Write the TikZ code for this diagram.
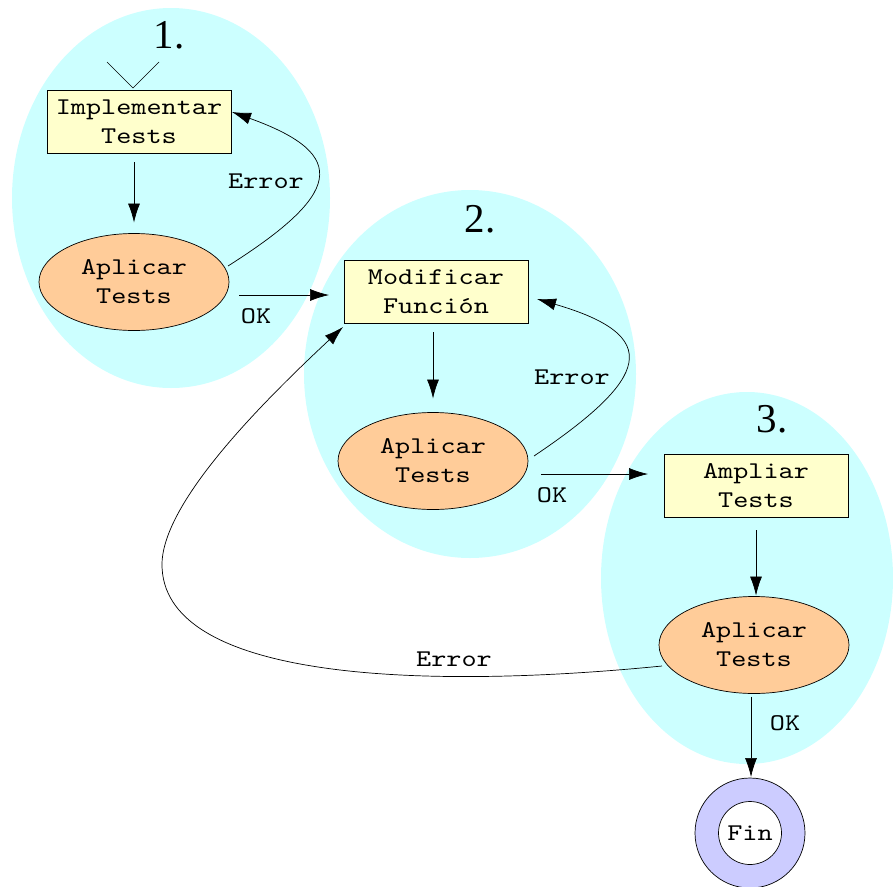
\documentclass[tikz,border=0pt]{standalone}
\usepackage{fontspec}
\setmainfont{Liberation Serif}
\newfontfamily\monof[FakeStretch=1.2]{lmmono10-regular.otf}
\usetikzlibrary{shapes.geometric,arrows.meta,calc}
\definecolor{clus}{HTML}{CCFFFF}
\definecolor{boxc}{HTML}{FFFFCC}
\definecolor{ellc}{HTML}{FFCC99}
\definecolor{finc}{HTML}{CCCCFF}
\begin{document}
\begin{tikzpicture}[x=1pt,y=-1pt,
  every node/.style={inner sep=0pt, outer sep=0pt},
  lbl/.style={font=\monof\fontsize{24}{29}\selectfont, align=center},
  boxn/.style={lbl, draw, line width=0.7pt, fill=boxc, minimum width=184pt, minimum height=63pt},
  elln/.style={lbl, ellipse, draw, line width=0.7pt, fill=ellc, minimum width=190pt, minimum height=97pt},
  arr/.style={-{Latex[length=19pt,width=12pt]}, line width=0.7pt},
  plain/.style={line width=0.7pt},
  num/.style={font=\fontsize{41}{41}\selectfont, anchor=base}]
\useasboundingbox (0,0) rectangle (893,886);
% clusters
\fill[clus] (171,198) ellipse [x radius=159pt, y radius=190pt];
\fill[clus] (470,374) ellipse [x radius=166pt, y radius=184pt];
\fill[clus] (747,578) ellipse [x radius=146pt, y radius=186pt];
\node[num] (n1) at (169,48) {1.};
\node[num] (n2) at (480,232) {2.};
\node[num] (n3) at (772,432) {3.};
% nodes
\node[boxn] (b1) at (139,121.5) {Implementar\\Tests};
\node[elln] (e1) at (134,282) {Aplicar\\Tests};
\node[boxn] (b2) at (436,291.5) {Modificar\\Función};
\node[elln] (e2) at (433,461) {Aplicar\\Tests};
\node[boxn] (b3) at (756,485.5) {Ampliar\\Tests};
\node[elln] (e3) at (754,645) {Aplicar\\Tests};
\node[circle, draw, line width=0.7pt, fill=finc, minimum size=110pt] (fin) at (750,833) {};
\node[lbl, circle, draw, line width=0.7pt, fill=white, minimum size=63pt] (fint) at (fin) {Fin};
% start marker
\coordinate (sl) at (107,62);
\coordinate (sr) at (159,62);
\coordinate (sv) at ($(b1.north)+(-6,-2)$);
\draw[plain] (sl) -- (sv) -- (sr);
% stage 1
\draw[arr] ($(b1.south)+(-5,9)$) -- ($(e1.north)+(0,-11)$);
\draw[arr] ($(e1.east)+(-1,-16)$) .. controls (340,195) and (352,155) .. ($(b1.east)+(1,-9.5)$);
\node[lbl] (err1) at (266,181) {Error};
\draw[arr] ($(e1.east)+(10,13)$) -- ($(b2.west)+(-15,3.5)$);
\node[lbl] (ok1) at (256,316) {OK};
% stage 2
\draw[arr] ($(b2.south)+(-3,9)$) -- ($(e2.north)+(0,-14)$);
\draw[arr] ($(e2.east)+(6,-5)$) .. controls (650,378) and (664,336) .. ($(b2.east)+(9,7.5)$);
\node[lbl] (err2) at (572,377) {Error};
\draw[arr] ($(e2.east)+(13,13)$) -- ($(b3.west)+(-16,-11.5)$);
\node[lbl] (ok2) at (552,495) {OK};
% stage 3
\draw[arr] ($(b3.south)+(0,13)$) -- ($(e3.north)+(2,-1)$);
\draw[arr] ($(e3.west)+(3,21)$) .. controls (420,690) and (160,680) .. (162,563)
   .. controls (164,500) and (265,400) .. ($(b2.south west)+(-1,4)$);
\node[lbl] (err3) at (454,659) {Error};
\draw[arr] ($(e3.south)+(-3,3)$) -- ($(fin.north)+(1,-1)$);
\node[lbl] (ok3) at (785,723) {OK};
\end{tikzpicture}
\end{document}
